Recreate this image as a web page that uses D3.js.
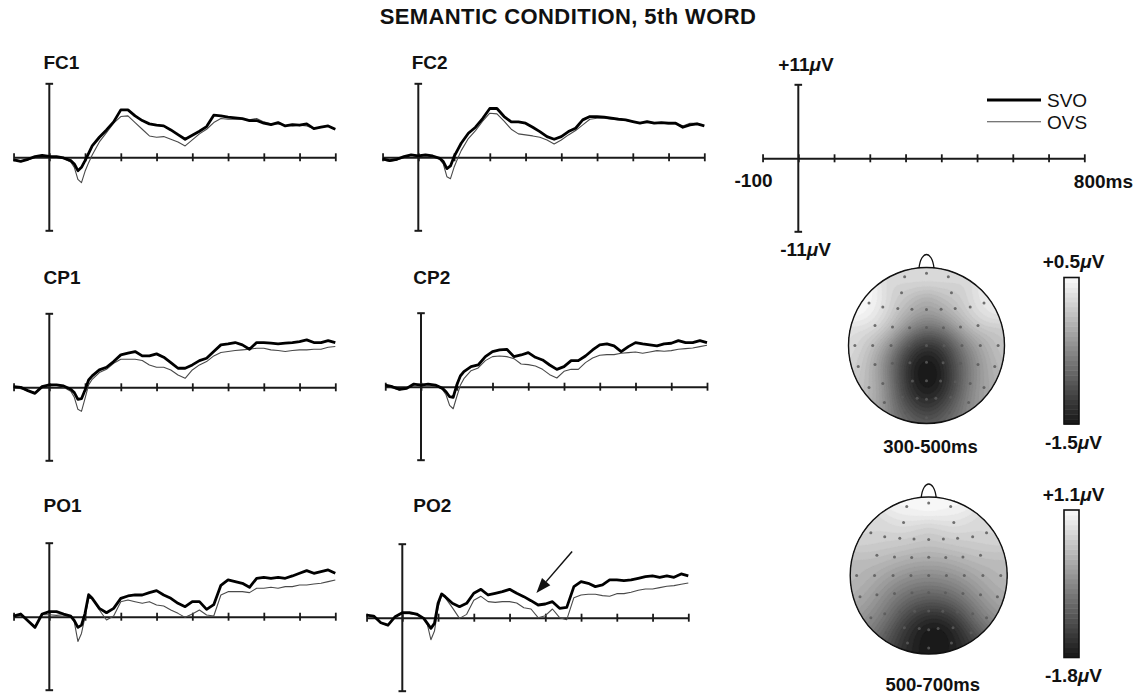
<!DOCTYPE html>
<html>
<head>
<meta charset="utf-8">
<script src="https://cdn.jsdelivr.net/npm/d3@7"></script>
<style>
  body { margin: 0; background: #fff; }
  text { font-family: "Liberation Sans", Arial, Helvetica, sans-serif; fill: #111; }
</style>
</head>
<body>
<svg id="chart" width="1136" height="695"></svg>
<script>
// ---- data ----
const times = [-100,-80,-60,-40,-20,0,20,40,60,70,80,90,100,110,
  120,140,160,180,200,220,240,260,280,300,320,340,360,380,400,420,440,460,480,500,
  520,540,560,580,600,620,640,660,680,700,720,740,760,780,800];

const fc1Svo = [-0.4,-0.6,-0.3,0.1,0.3,0.15,0.1,-0.1,-0.5,-1.0,-2.0,-1.5,-0.5,0.6,
  1.7,3.0,4.1,5.3,7.1,7.1,6.2,5.5,5.0,4.8,4.7,4.1,3.4,2.7,3.3,3.9,4.6,6.3,6.2,6.0,
  5.9,5.8,5.5,5.5,5.1,4.9,5.2,4.7,4.9,4.8,5.0,4.3,4.5,4.7,4.2];
const fc1Ovs = [-0.2,-0.6,-0.4,0.0,0.2,0.2,0.0,-0.2,-0.7,-1.5,-3.3,-3.8,-2.1,-0.8,
  0.35,2.3,3.7,5.1,6.1,6.2,5.2,4.2,3.2,3.0,3.1,2.7,2.3,1.7,2.6,3.5,4.2,5.2,5.8,5.7,
  5.7,5.7,5.6,5.8,5.3,5.0,5.0,4.8,4.7,4.8,4.7,4.3,4.5,4.7,4.2];
const fc2Svo = [-0.25,-0.5,-0.3,0.1,0.35,0.2,0.35,0.2,-0.15,-0.65,-1.7,-1.3,0.1,1.1,
  2.1,3.6,4.5,5.8,7.3,7.3,6.1,5.3,5.3,5.1,4.5,3.85,3.1,2.7,3.1,3.85,4.35,5.6,6.1,6.1,
  6.0,5.85,5.7,5.6,5.35,5.1,5.35,5.1,5.2,5.1,5.1,4.5,4.85,5.0,4.7];
const fc2Ovs = [-0.4,-0.6,-0.4,0.0,0.3,0.1,0.2,0.1,-0.3,-1.0,-2.9,-3.2,-1.5,-0.2,
  1.0,2.8,4.0,5.4,6.6,6.5,5.4,4.2,3.5,3.35,3.2,3.0,2.6,2.0,2.6,3.35,4.0,4.85,5.7,5.85,
  5.85,5.7,5.6,5.5,5.35,5.1,5.2,5.1,5.1,5.0,5.0,4.7,5.1,5.1,4.7];
const cp1Svo = [0.1,0.0,-0.5,-0.9,0.1,0.35,0.35,0.2,-0.3,-0.8,-1.8,-1.7,-0.4,1.1,
  1.7,2.6,3.0,3.85,4.85,5.1,5.35,4.7,4.7,5.0,4.5,3.7,2.85,2.85,3.35,4.0,4.35,5.35,6.35,6.5,
  6.7,6.35,5.7,6.7,6.7,6.6,6.5,6.6,6.7,6.85,7.1,6.7,6.7,7.0,6.7];
const cp1Ovs = [0.0,-0.2,-0.5,-0.8,0.2,0.2,0.3,0.0,-0.6,-1.5,-3.3,-3.6,-1.65,0.35,
  1.2,2.2,2.7,3.6,4.2,4.2,4.2,4.0,3.35,3.0,3.0,2.6,1.85,1.35,2.6,3.35,3.85,4.7,5.2,5.35,
  5.5,5.6,5.7,5.85,5.85,5.6,5.5,5.35,5.5,5.6,5.6,5.7,5.7,6.0,6.1];
const cp2Svo = [0.25,0.0,-0.4,-0.25,0.4,0.25,0.4,0.25,-0.25,-0.75,-1.5,-1.6,0.25,1.6,
  2.25,3.0,3.25,4.5,5.25,5.5,5.6,4.5,4.75,5.1,4.4,4.0,3.25,2.6,3.0,3.9,3.9,4.6,5.5,6.25,
  6.4,6.1,5.25,6.0,6.6,6.4,6.25,6.1,6.4,6.5,6.9,6.6,6.6,6.9,6.6];
const cp2Ovs = [0.1,-0.2,-0.5,-0.2,0.3,0.4,0.3,0.2,-0.4,-1.2,-2.8,-3.3,-1.5,0.2,
  1.2,2.4,2.8,3.9,4.5,4.6,4.5,4.2,3.4,3.3,3.1,2.6,1.8,1.3,2.3,2.6,2.6,3.6,4.3,4.7,
  4.8,4.8,5.0,5.1,5.2,5.0,5.2,5.4,5.3,5.4,5.6,5.7,5.8,6.0,6.2];
const po1Svo = [0.1,0.4,-0.6,-1.6,0.4,0.75,0.75,0.4,0.1,-0.6,-1.6,-1.25,0.5,3.3,
  2.75,1.25,0.6,1.25,2.75,3.1,3.25,3.25,3.6,3.9,3.25,2.75,2.0,1.5,2.25,2.25,1.1,1.8,4.7,5.5,
  5.25,5.0,4.4,5.75,5.9,5.75,5.9,5.75,6.1,6.5,6.9,6.5,6.75,7.0,6.5];
const po1Ovs = [0.0,0.3,-0.6,-1.5,0.3,0.3,0.2,0.3,0.0,-0.8,-3.7,-2.5,0.0,2.75,
  2.75,1.0,-0.5,0.1,2.25,2.5,2.25,2.0,2.25,1.75,1.6,1.0,0.5,-0.1,0.4,1.0,0.25,0.1,3.25,3.75,
  3.75,3.75,3.6,4.25,4.25,4.4,4.25,4.5,4.5,4.75,4.75,4.9,5.0,5.25,5.5];
const po2Svo = [0.4,0.25,-0.75,-1.1,0.15,0.75,0.75,0.55,-0.1,-0.85,-1.6,-0.85,2.15,3.55,
  3.15,2.15,1.65,2.15,3.65,4.25,3.4,3.65,3.9,4.25,3.65,3.15,2.55,1.9,2.05,2.4,1.4,1.55,4.65,5.4,
  5.15,4.65,4.9,5.65,5.65,5.55,5.65,5.9,6.15,6.25,6.05,6.25,6.05,6.55,6.25];
const po2Ovs = [0.4,0.2,-0.8,-1.2,0.2,0.6,0.6,0.4,0.0,-1.0,-3.3,-2.0,1.5,3.4,
  3.0,1.5,-0.1,0.5,2.6,3.2,2.4,2.3,2.4,2.4,2.2,1.5,1.3,0.0,0.3,1.3,0.0,-0.3,3.0,3.4,
  3.5,3.5,3.3,3.2,3.6,3.6,3.8,4.1,4.3,4.3,4.5,4.7,4.8,5.0,5.2];

const channels = ["FC1", "FC2", "CP1", "CP2", "PO1", "PO2"];
const seriesNames = ["SVO", "OVS"];
const timeRange = [-100, 800];
const voltRange = [-11, 11];
const arrowFrom = [475, 9.9];   // [ms, µV] in PO2
const arrowTo = [375, 3.7];

// electrode montage, head-normalised coordinates [x, y] (y down)
const montage = [
  [-0.28,-0.88],[0,-0.925],[0.28,-0.88],
  [-0.32,-0.675],[0.32,-0.675],
  [-0.737,-0.546],[-0.56,-0.495],[-0.368,-0.473],[-0.187,-0.465],[0,-0.46],[0.187,-0.465],[0.368,-0.473],[0.56,-0.495],[0.737,-0.546],
  [-0.66,-0.258],[-0.436,-0.237],[-0.217,-0.228],[0,-0.232],[0.217,-0.228],[0.436,-0.237],[0.66,-0.258],
  [-0.918,0],[-0.69,0],[-0.454,0],[-0.226,0],[0,0],[0.226,0],[0.454,0],[0.69,0],[0.918,0],
  [-0.875,0.27],[-0.66,0.245],[-0.436,0.228],[-0.213,0.22],[0,0.215],[0.213,0.22],[0.436,0.228],[0.66,0.245],[0.875,0.27],
  [-0.737,0.538],[-0.56,0.486],[-0.368,0.464],[-0.18,0.456],[0,0.452],[0.18,0.456],[0.368,0.464],[0.56,0.486],[0.737,0.538],
  [-0.54,0.73],[-0.31,0.665],[-0.12,0.675],[0,0.69],[0.12,0.675],[0.31,0.665],[0.54,0.73],
  [-0.27,0.86],[0,0.925],[0.29,0.86]
];
const map1Values = [-0.08,-0.12,-0.08,
  -0.2,-0.2,
  0.15,-0.05,-0.25,-0.38,-0.45,-0.38,-0.28,-0.12,0.05,
  0.0,-0.28,-0.62,-0.85,-0.72,-0.4,-0.12,
  -0.07,-0.28,-0.56,-1.05,-1.26,-1.15,-0.7,-0.45,-0.2,
  -0.14,-0.4,-0.84,-1.26,-1.45,-1.26,-0.84,-0.56,-0.28,
  -0.2,-0.5,-0.9,-1.35,-1.5,-1.4,-1.0,-0.65,-0.35,
  -0.4,-1.0,-1.26,-1.3,-1.26,-1.0,-0.5,
  -0.7,-0.84,-0.7];
const map2Values = [0.97,1.0,0.97,
  0.8,0.8,
  0.6,0.55,0.5,0.47,0.45,0.47,0.5,0.55,0.6,
  0.35,0.22,0.12,0.07,0.12,0.22,0.35,
  0.3,0.15,-0.05,-0.2,-0.25,-0.2,-0.05,0.15,0.3,
  0.15,-0.1,-0.4,-0.6,-0.65,-0.6,-0.4,-0.1,0.12,
  -0.15,-0.4,-0.7,-0.95,-1.1,-1.05,-0.85,-0.5,-0.2,
  -0.75,-1.25,-1.55,-1.7,-1.8,-1.6,-1.05,
  -1.3,-1.6,-1.4];
const mapWindows = ["300-500ms", "500-700ms"];
const mapRanges = [[-1.5, 0.5], [-1.8, 1.1]];

// ---- layout ----
const svg = d3.select("#chart");
const msPx = 0.3575;
const panelPos = [
  {ax: 49.3, zy: 157.3, lx: 43.5, ly: 69},
  {ax: 418.3, zy: 157.3, lx: 411.7, ly: 69},
  {ax: 49.3, zy: 387.3, lx: 43.5, ly: 284},
  {ax: 421, zy: 386.7, lx: 413.3, ly: 284},
  {ax: 49.3, zy: 616.7, lx: 43.5, ly: 511.5},
  {ax: 402.3, zy: 617.7, lx: 413.3, ly: 511.5}
];
const series = [[fc1Svo, fc1Ovs], [fc2Svo, fc2Ovs], [cp1Svo, cp1Ovs],
                [cp2Svo, cp2Ovs], [po1Svo, po1Ovs], [po2Svo, po2Ovs]];
const lineStyle = [{w: 2.8, c: "#000"}, {w: 1.1, c: "#4a4a4a"}];

svg.append("text").attr("x", 568).attr("y", 24).attr("text-anchor", "middle")
  .attr("font-size", 22).attr("font-weight", "bold").attr("letter-spacing", 0.4)
  .text("SEMANTIC CONDITION, 5th WORD");

function scalesFor(ax, zy) {
  const x = d3.scaleLinear().domain(timeRange)
    .range([ax + timeRange[0] * msPx, ax + timeRange[1] * msPx]);
  const y = d3.scaleLinear().domain(voltRange)
    .range([zy + 73.5, zy - 73.5]);
  return {x, y};
}

function drawAxes(g, x, y) {
  const ax = g.append("g").attr("transform", `translate(0,${y(0)})`)
    .call(d3.axisBottom(x).tickValues(d3.range(timeRange[0], timeRange[1] + 1, 100))
      .tickSizeOuter(0).tickFormat(""));
  ax.select(".domain").attr("stroke", "#1a1a1a").attr("stroke-width", 2);
  ax.selectAll(".tick line").attr("y1", -4).attr("y2", 4)
    .attr("stroke", "#1a1a1a").attr("stroke-width", 1.8);
  g.append("line").attr("x1", x(0)).attr("x2", x(0))
    .attr("y1", y(voltRange[1])).attr("y2", y(voltRange[0]))
    .attr("stroke", "#1a1a1a").attr("stroke-width", 2);
  voltRange.forEach(v => g.append("line")
    .attr("x1", x(0) - 3.8).attr("x2", x(0) + 3.8).attr("y1", y(v)).attr("y2", y(v))
    .attr("stroke", "#1a1a1a").attr("stroke-width", 2));
}

channels.forEach((name, i) => {
  const p = panelPos[i];
  const {x, y} = scalesFor(p.ax, p.zy);
  const g = svg.append("g");
  g.append("text").attr("x", p.lx).attr("y", p.ly).attr("font-size", 19)
    .attr("font-weight", "bold").text(name);
  drawAxes(g, x, y);
  const line = d3.line().x((d, k) => x(times[k])).y(d => y(d));
  [1, 0].forEach(s => {
    g.append("path").datum(series[i][s]).attr("d", line)
      .attr("fill", "none").attr("stroke", lineStyle[s].c)
      .attr("stroke-width", lineStyle[s].w).attr("stroke-linejoin", "round");
  });
  if (name === "PO2") {
    const x1 = x(arrowFrom[0]), y1 = y(arrowFrom[1]);
    const x2 = x(arrowTo[0]), y2 = y(arrowTo[1]);
    const ang = Math.atan2(y2 - y1, x2 - x1), L = 15, W = 5.5;
    const bx = x2 - L * Math.cos(ang), by = y2 - L * Math.sin(ang);
    g.append("line").attr("x1", x1).attr("y1", y1).attr("x2", bx).attr("y2", by)
      .attr("stroke", "#111").attr("stroke-width", 1.5);
    g.append("path").attr("fill", "#111").attr("d",
      `M${x2},${y2}L${bx + W * Math.sin(ang)},${by - W * Math.cos(ang)}` +
      `L${bx - W * Math.sin(ang)},${by + W * Math.cos(ang)}Z`);
  }
});

// ---- reference axis with legend ----
{
  const {x, y} = scalesFor(798.3, 158.3);
  const g = svg.append("g");
  drawAxes(g, x, y);
  const lab = (tx, ty, txt, anchor, unit) => {
    const t = g.append("text").attr("x", tx).attr("y", ty).attr("font-size", 19)
      .attr("font-weight", "bold").attr("text-anchor", anchor).text(txt);
    if (unit) {
      t.append("tspan").attr("font-style", "italic").text("\u03bc");
      t.append("tspan").text("V");
    }
  };
  const fmt = v => (v > 0 ? "+" : "") + v;
  lab(x(0) - 20, 71, fmt(voltRange[1]), "start", true);
  lab(x(0) - 18, 256, fmt(voltRange[0]), "start", true);
  lab(x(timeRange[0]) + 10, 187, String(timeRange[0]), "end", false);
  lab(1133, 188, timeRange[1] + "ms", "end", false);
  seriesNames.forEach((s, k) => {
    const ly = 100 + k * 21.7;
    g.append("line").attr("x1", 987).attr("x2", 1041).attr("y1", ly).attr("y2", ly)
      .attr("stroke", lineStyle[k].c).attr("stroke-width", lineStyle[k].w);
    g.append("text").attr("x", 1047).attr("y", ly + 6.8).attr("font-size", 19).text(s);
  });
}

// ---- topographic maps ----
const mapPos = [
  {cx: 926.5, cy: 345.5, r: 78, barTop: 277.5, barBot: 424, lTop: 268, lBot: 449, wy: 452.5},
  {cx: 928.7, cy: 575.5, r: 78.5, barTop: 510, barBot: 657.5, lTop: 501, lBot: 682, wy: 691}
];
// smooth kernel interpolation between electrodes
function smoothAt(values, px, py) {
  let ws = 0, s = 0;
  const sig2 = 2 * 0.17 * 0.17;
  for (let k = 0; k < montage.length; k++) {
    const dx = px - montage[k][0], dy = py - montage[k][1];
    const w = Math.exp(-(dx * dx + dy * dy) / sig2) + 1e-9;
    ws += w; s += w * values[k];
  }
  return s / ws;
}
[map1Values, map2Values].forEach((values, m) => {
  const p = mapPos[m];
  const [lo, hi] = mapRanges[m];
  const g = svg.append("g");
  const N = 140, ext = 1.03;
  const raw = new Float64Array(N * N);
  let gmin = Infinity, gmax = -Infinity;
  for (let j = 0; j < N; j++) for (let i = 0; i < N; i++) {
    const px = -ext + (i + 0.5) * 2 * ext / N, py = -ext + (j + 0.5) * 2 * ext / N;
    const v = smoothAt(values, px, py);
    raw[j * N + i] = v;
    if (px * px + py * py <= 1) { gmin = Math.min(gmin, v); gmax = Math.max(gmax, v); }
  }
  // stretch the interpolated field back onto the map's value range
  const stretch = d3.scaleLinear().domain([gmin, gmax]).range([lo, hi]);
  const grid = raw.map(stretch);
  const nb = 30;
  const thr = d3.range(nb).map(k => lo + k * (hi - lo) / nb);
  thr[0] = Math.min(lo, d3.min(grid)) - 1e-6;
  const color = d3.scaleLinear().domain([lo, hi]).range(["#161616", "#fbfbfb"]);
  const bandColor = k => color(lo + (k + 0.5) * (hi - lo) / nb);
  const s = 2 * ext * p.r / N, x0 = p.cx - ext * p.r, y0 = p.cy - ext * p.r;
  const path = d3.geoPath(d3.geoTransform({
    point(x, y) { this.stream.point(x0 + x * s, y0 + y * s); }
  }));
  const id = "head" + m;
  g.append("clipPath").attr("id", id).append("circle")
    .attr("cx", p.cx).attr("cy", p.cy).attr("r", p.r);
  g.append("g").attr("clip-path", `url(#${id})`).selectAll("path")
    .data(d3.contours().size([N, N]).thresholds(thr)(grid)).join("path")
    .attr("d", path).attr("fill", (d, k) => bandColor(k)).attr("stroke", (d, k) => bandColor(k))
    .attr("stroke-width", 0.4);
  g.selectAll(".el").data(montage).join("circle")
    .attr("cx", d => p.cx + d[0] * p.r).attr("cy", d => p.cy + d[1] * p.r)
    .attr("r", 1.5).attr("fill", "#5a5a5a").attr("fill-opacity", 0.85);
  g.append("circle").attr("cx", p.cx).attr("cy", p.cy).attr("r", p.r)
    .attr("fill", "none").attr("stroke", "#111").attr("stroke-width", 1.4);
  const nt = p.cy - p.r;
  g.append("path").attr("fill", "none").attr("stroke", "#111").attr("stroke-width", 1.3)
    .attr("d", `M${p.cx - 7.5},${nt + 0.8}C${p.cx - 6.5},${nt - 9} ${p.cx - 3},${nt - 13} ${p.cx},${nt - 13}` +
      `C${p.cx + 3},${nt - 13} ${p.cx + 6.5},${nt - 9} ${p.cx + 7.5},${nt + 0.8}`);
  g.append("text").attr("x", p.cx + 4).attr("y", p.wy).attr("text-anchor", "middle")
    .attr("font-size", 18.5).attr("font-weight", "bold").text(mapWindows[m]);
  // colour bar
  const by = d3.scaleLinear().domain([lo, hi]).range([p.barBot, p.barTop]);
  const bx = 1064, bw = 15;
  g.selectAll(".band").data(d3.range(nb)).join("rect")
    .attr("x", bx).attr("width", bw)
    .attr("y", k => by(lo + (k + 1) * (hi - lo) / nb))
    .attr("height", k => by(lo + k * (hi - lo) / nb) - by(lo + (k + 1) * (hi - lo) / nb) + 0.5)
    .attr("fill", k => bandColor(k));
  g.append("rect").attr("x", bx).attr("y", p.barTop).attr("width", bw)
    .attr("height", p.barBot - p.barTop).attr("fill", "none")
    .attr("stroke", "#111").attr("stroke-width", 1.6);
  const fmt = v => (v > 0 ? "+" : "") + v;
  [[hi, p.lTop], [lo, p.lBot]].forEach(([v, ty]) => {
    const t = g.append("text").attr("x", bx + bw / 2 + 2).attr("y", ty)
      .attr("text-anchor", "middle").attr("font-size", 19).attr("font-weight", "bold")
      .text(fmt(v));
    t.append("tspan").attr("font-style", "italic").text("\u03bc");
    t.append("tspan").text("V");
  });
});
</script>
</body>
</html>
